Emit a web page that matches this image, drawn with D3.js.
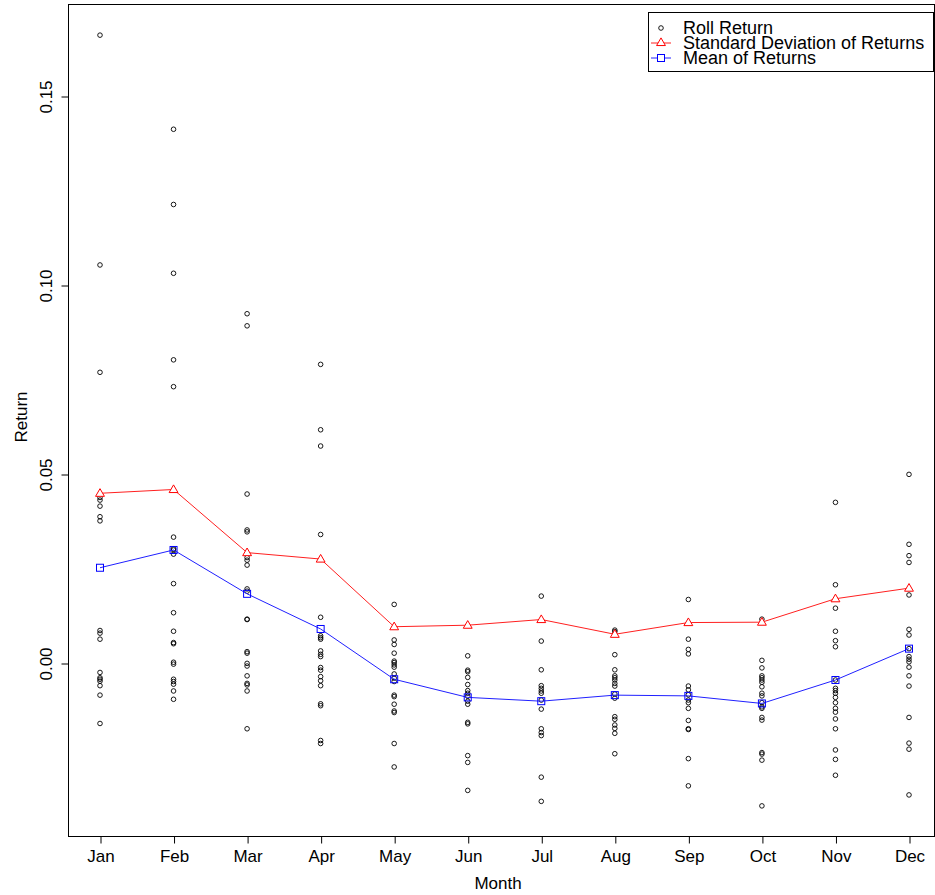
<!DOCTYPE html>
<html>
<head>
<meta charset="utf-8">
<script src="https://cdn.jsdelivr.net/npm/d3@7"></script>
<style>
  body { margin: 0; background: #fff; }
  svg { display: block; font-family: "Liberation Sans", Arial, sans-serif; }
</style>
</head>
<body>
<div id="chart"></div>
<script>
// data
const months = ["Jan", "Feb", "Mar", "Apr", "May", "Jun", "Jul", "Aug", "Sep", "Oct", "Nov", "Dec"];

const rollReturns = [
  [0.1661, 0.1053, 0.0769, 0.0438, 0.0431, 0.0415, 0.0387, 0.0376, 0.0086, 0.0079, 0.0063,
   -0.0025, -0.0039, -0.0043, -0.0048, -0.0060, -0.0085, -0.0160],
  [0.1412, 0.1213, 0.1031, 0.0802, 0.0731, 0.0333, 0.0302, 0.0299, 0.0288, 0.0210, 0.0133,
   0.0084, 0.0054, 0.0051, 0.0002, -0.0003, -0.0043, -0.0049, -0.0056, -0.0074, -0.0096],
  [0.0924, 0.0892, 0.0447, 0.0352, 0.0347, 0.0279, 0.0272, 0.0259, 0.0196, 0.0190, 0.0116,
   0.0115, 0.0030, 0.0026, -0.0001, -0.0008, -0.0034, -0.0054, -0.0058, -0.0074, -0.0174],
  [0.0790, 0.0617, 0.0574, 0.0340, 0.0121, 0.0072, 0.0067, 0.0063, 0.0032, 0.0023, 0.0017,
   -0.0012, -0.0019, -0.0036, -0.0047, -0.0060, -0.0108, -0.0113, -0.0205, -0.0213],
  [0.0155, 0.0061, 0.0049, 0.0026, 0.0005, 0.0001, -0.0005, -0.0011, -0.0029, -0.0040, -0.0049,
   -0.0085, -0.0089, -0.0109, -0.0127, -0.0131, -0.0213, -0.0275],
  [0.0019, -0.0019, -0.0023, -0.0038, -0.0057, -0.0073, -0.0080, -0.0088, -0.0101, -0.0109,
   -0.0157, -0.0161, -0.0245, -0.0263, -0.0337],
  [0.0177, 0.0058, -0.0018, -0.0060, -0.0067, -0.0074, -0.0080, -0.0098, -0.0122, -0.0174,
   -0.0184, -0.0192, -0.0302, -0.0366],
  [0.0087, 0.0083, 0.0022, -0.0018, -0.0034, -0.0039, -0.0045, -0.0054, -0.0061, -0.0082, -0.0093,
   -0.0142, -0.0149, -0.0164, -0.0173, -0.0186, -0.0240],
  [0.0168, 0.0063, 0.0036, 0.0024, -0.0061, -0.0071, -0.0084, -0.0098, -0.0105, -0.0120, -0.0152,
   -0.0174, -0.0176, -0.0253, -0.0325],
  [0.0116, 0.0007, -0.0013, -0.0034, -0.0039, -0.0045, -0.0051, -0.0063, -0.0080, -0.0087, -0.0105,
   -0.0116, -0.0120, -0.0144, -0.0151, -0.0237, -0.0241, -0.0257, -0.0378],
  [0.0425, 0.0207, 0.0145, 0.0084, 0.0059, 0.0043, -0.0045, -0.0067, -0.0073, -0.0080, -0.0091,
   -0.0105, -0.0120, -0.0130, -0.0148, -0.0174, -0.0230, -0.0255, -0.0297],
  [0.0499, 0.0314, 0.0284, 0.0266, 0.0180, 0.0089, 0.0074, 0.0038, 0.0017, 0.0010, 0.0003,
   -0.0011, -0.0034, -0.0061, -0.0144, -0.0212, -0.0228, -0.0349]
];

const sdReturns = [0.0449, 0.0459, 0.0292, 0.0275, 0.0096, 0.0100, 0.0115, 0.0076, 0.0107, 0.0108, 0.0170, 0.0198];
const meanReturns = [0.0252, 0.0299, 0.0183, 0.0090, -0.0043, -0.0091, -0.0101, -0.0085, -0.0087, -0.0107, -0.0045, 0.0038];

const yTicks = [0.00, 0.05, 0.10, 0.15];
const legendLabels = ["Roll Return", "Standard Deviation of Returns", "Mean of Returns"];

const W = 935, H = 895;
const box = {left: 68, right: 934, top: 4, bottom: 836};

const svg = d3.select("#chart").append("svg")
    .attr("width", W)
    .attr("height", H);

const x = d3.scaleLinear().domain([1, 12]).range([100, 909]);
const y = d3.scaleLinear().domain([0, 0.15]).range([663, 96]);

// frame
svg.append("rect")
    .attr("x", box.left + 0.5).attr("y", box.top + 0.5)
    .attr("width", box.right - box.left).attr("height", box.bottom - box.top)
    .attr("fill", "none").attr("stroke", "#000").attr("stroke-width", 1);

// x axis
const xAxis = d3.axisBottom(x)
    .tickValues(d3.range(1, 13))
    .tickFormat(d => months[d - 1])
    .tickSize(7)
    .tickPadding(6);

const gx = svg.append("g")
    .attr("transform", `translate(0.5, ${box.bottom + 0.5})`)
    .call(xAxis);
gx.select(".domain").remove();
gx.selectAll("text").attr("font-size", 17).attr("fill", "#000").attr("font-family", "Liberation Sans, Arial, sans-serif");

// y axis
const yAxis = d3.axisLeft(y)
    .tickValues(yTicks)
    .tickFormat(d3.format(".2f"))
    .tickSize(7);

const gy = svg.append("g")
    .attr("transform", `translate(${box.left + 0.5}, 0.5)`)
    .call(yAxis);
gy.select(".domain").attr("d", `M-0,${y(0)}V${y(0.15)}`);
gy.selectAll("text")
    .attr("font-size", 17).attr("fill", "#000")
    .attr("font-family", "Liberation Sans, Arial, sans-serif")
    .attr("text-anchor", "middle")
    .attr("x", null).attr("dy", null)
    .attr("transform", "translate(-17,0) rotate(-90)");

// axis titles
svg.append("text")
    .attr("x", (box.left + box.right) / 2 - 3).attr("y", 889)
    .attr("text-anchor", "middle").attr("font-size", 17)
    .text("Month");
svg.append("text")
    .attr("transform", `translate(27, ${(box.top + box.bottom) / 2 - 3}) rotate(-90)`)
    .attr("text-anchor", "middle").attr("font-size", 17)
    .text("Return");

// roll return points
const pts = [];
rollReturns.forEach((arr, i) => arr.forEach(v => pts.push({m: i + 1, v})));

svg.append("g").selectAll("circle")
    .data(pts)
    .join("circle")
    .attr("cx", d => x(d.m))
    .attr("cy", d => y(d.v))
    .attr("r", 2.3)
    .attr("fill", "none")
    .attr("stroke", "#000")
    .attr("stroke-width", 0.9);

// lines
const line = d3.line().x((d, i) => x(i + 1)).y(d => y(d));

svg.append("path").datum(sdReturns)
    .attr("d", line).attr("fill", "none")
    .attr("stroke", "#ff2020").attr("stroke-width", 1);
svg.append("path").datum(meanReturns)
    .attr("d", line).attr("fill", "none")
    .attr("stroke", "#2020ff").attr("stroke-width", 1);

const tri = d3.symbol().type(d3.symbolTriangle).size(34);
svg.append("g").selectAll("path")
    .data(sdReturns)
    .join("path")
    .attr("d", tri)
    .attr("transform", (d, i) => `translate(${x(i + 1)},${y(d) + 0.5})`)
    .attr("fill", "#fff").attr("stroke", "#ff0000").attr("stroke-width", 1);

svg.append("g").selectAll("rect")
    .data(meanReturns)
    .join("rect")
    .attr("x", (d, i) => x(i + 1) - 3.5)
    .attr("y", d => y(d) - 3.5)
    .attr("width", 7).attr("height", 7)
    .attr("fill", "none").attr("stroke", "#0000ff").attr("stroke-width", 1);

// legend
const lg = svg.append("g").attr("transform", "translate(648,12)");
lg.append("rect")
    .attr("x", 0.5).attr("y", 0.5).attr("width", 285).attr("height", 59)
    .attr("fill", "#fff").attr("stroke", "#000");
const rowY = [16, 31, 46];
lg.append("circle").attr("cx", 13).attr("cy", rowY[0]).attr("r", 2.3)
    .attr("fill", "none").attr("stroke", "#000").attr("stroke-width", 0.9);
lg.append("line").attr("x1", 3).attr("x2", 23).attr("y1", rowY[1]).attr("y2", rowY[1])
    .attr("stroke", "#ff2020");
lg.append("path").attr("d", tri)
    .attr("transform", `translate(13,${rowY[1]})`)
    .attr("fill", "#fff").attr("stroke", "#ff0000");
lg.append("line").attr("x1", 3).attr("x2", 23).attr("y1", rowY[2]).attr("y2", rowY[2])
    .attr("stroke", "#2020ff");
lg.append("rect").attr("x", 9.5).attr("y", rowY[2] - 3.5).attr("width", 7).attr("height", 7)
    .attr("fill", "#fff").attr("stroke", "#0000ff");
lg.selectAll("text.lab")
    .data(legendLabels)
    .join("text")
    .attr("class", "lab")
    .attr("x", 35)
    .attr("y", (d, i) => rowY[i] + 6)
    .attr("font-size", 18)
    .text(d => d);
</script>
</body>
</html>
